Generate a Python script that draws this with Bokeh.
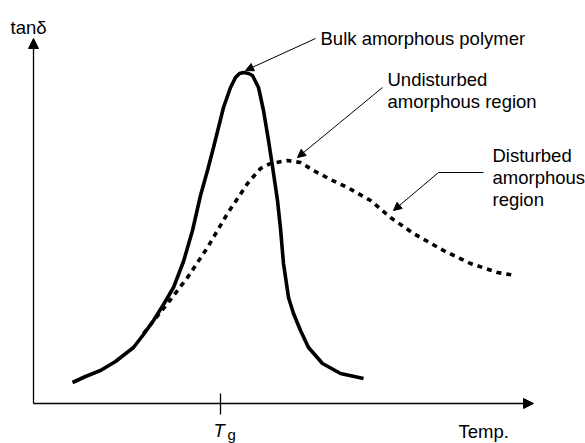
from bokeh.plotting import figure
from bokeh.models import Range1d, Arrow, NormalHead, Label
from bokeh.embed import file_html
from bokeh.resources import INLINE

# ---- data (temperature and tan-delta, arbitrary units from the axis origin) ----
bulk_temp = [39, 52, 67, 82, 100, 110, 120, 130, 140, 150, 159, 167, 174, 180, 190,
             197, 202, 206, 210, 215, 219, 225, 230, 235, 239, 244, 247, 250, 255,
             260, 267, 275, 289, 307, 330]
bulk_tan = [21, 27, 33, 42, 56, 69, 83, 99, 116, 142, 173, 208, 233, 256, 296,
            316, 326, 330, 331, 330, 328, 316, 293, 263, 237, 203, 175, 140, 106,
            90, 73, 56, 40, 30, 25]

dist_temp = [110, 122, 134, 154, 174, 184, 194, 204, 214, 227, 237, 254, 267, 280,
             297, 314, 337, 357, 380, 410, 437, 464, 482]
dist_tan = [70, 85, 100, 126, 156, 173, 190, 205, 220, 235, 240, 243, 241, 233,
            224, 216, 203, 186, 170, 153, 140, 131, 128]

tg_value = 187
y_axis_label = "tan\u03b4"
x_axis_label = "Temp."
label_bulk = "Bulk amorphous polymer"
label_undisturbed = ["Undisturbed", "amorphous region"]
label_disturbed = ["Disturbed", "amorphous", "region"]

FONT = "Liberation Sans"
FS = "18.5px"

p = figure(width=585, height=443,
           x_range=Range1d(-33, 552), y_range=Range1d(-40, 403),
           output_backend="svg", toolbar_location=None,
           x_axis_type=None, y_axis_type=None, min_border=0)
p.outline_line_color = None
p.background_fill_color = "white"
p.border_fill_color = "white"

# axes with arrow heads
p.add_layout(Arrow(end=NormalHead(size=10, fill_color="black", line_color="black", line_width=1),
                   x_start=0, y_start=0, x_end=0, y_end=365,
                   line_width=1.3, line_color="black"))
p.add_layout(Arrow(end=NormalHead(size=10, fill_color="black", line_color="black", line_width=1),
                   x_start=0, y_start=0, x_end=500, y_end=0,
                   line_width=1.3, line_color="black"))

# Tg tick
p.segment(x0=[tg_value], y0=[10], x1=[tg_value], y1=[-11], line_color="black", line_width=1.3)

# curves
p.line(dist_temp, dist_tan, line_color="black", line_width=3.6,
       line_dash="5 5", line_cap="butt")
p.line(bulk_temp, bulk_tan, line_color="black", line_width=3.6,
       line_join="round", line_cap="butt")

# leader arrows
def leader(x0, y0, x1, y1):
    p.add_layout(Arrow(end=NormalHead(size=8, fill_color="black", line_color="black", line_width=1),
                       x_start=x0, y_start=y0, x_end=x1, y_end=y1,
                       line_width=1, line_color="black"))

leader(282, 365, 212, 333)
leader(349, 316, 264, 246)
p.segment(x0=[450], y0=[231], x1=[405], y1=[231], line_color="black", line_width=1)
leader(405, 231, 360, 193)

def txt(x, y, s, size=FS, style="normal"):
    p.add_layout(Label(x=x, y=y, text=s, text_font=FONT, text_font_size=size,
                       text_font_style=style, text_color="black",
                       text_baseline="alphabetic", text_align="left"))

txt(-23, 376, y_axis_label)
txt(287, 365, label_bulk)
for i, s in enumerate(label_undisturbed):
    txt(354, 324 - 22 * i, s)
for i, s in enumerate(label_disturbed):
    txt(459, 248 - 22 * i, s)
txt(425, -28, x_axis_label)
txt(180, -27, "T", style="italic")
txt(194, -31, "g", size="15px")

open("out.html", "w").write(file_html(p, INLINE))
